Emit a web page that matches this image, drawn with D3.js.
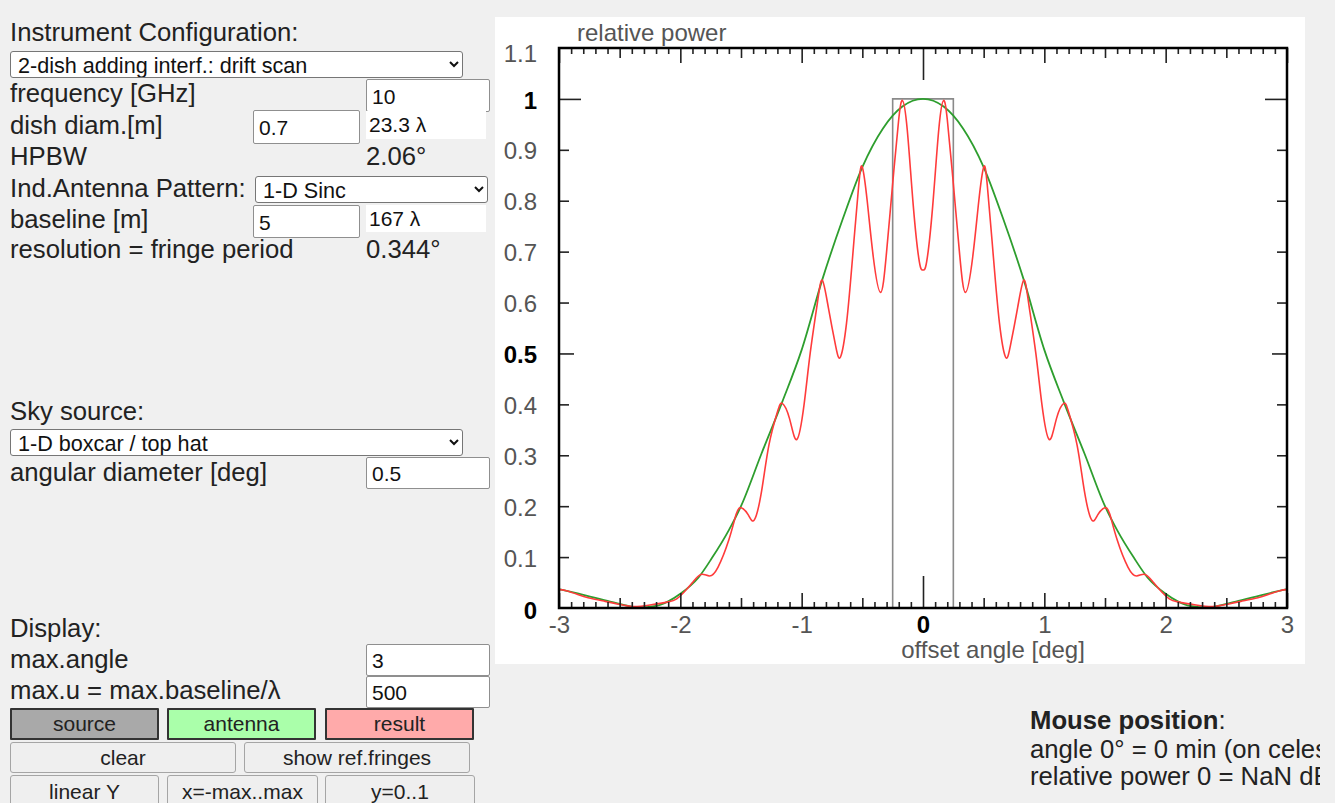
<!DOCTYPE html>
<html>
<head>
<meta charset="utf-8">
<script src="https://cdn.jsdelivr.net/npm/d3@7"></script>
<style>
  html, body { margin: 0; padding: 0; background: #f0f0f0; }
  body { font-family: "Liberation Sans", Arial, sans-serif; color: #222; }
  #page { position: relative; width: 1320px; height: 803px; overflow: hidden; }
  .lbl { position: absolute; font-size: 25.7px; line-height: 24px; white-space: nowrap; }
  select, input, .ro, button { position: absolute; box-sizing: border-box; font-family: inherit; }
  select { font-size: 21.6px; border: 1px solid #767676; border-radius: 3px; background: #fff; color: #111; padding: 0 0 0 3px; }
  input { font-size: 21px; border: 1px solid #8f8f8f; border-radius: 2px; background: #fff; color: #111; padding: 2px 0 0 5px; }
  .ro { font-size: 21px; background: #fff; padding: 2px 0 0 3px; line-height: 24px; color: #111; }
  button { font-size: 21px; color: #222; background: #efefef; border: 1px solid #a5a5a5; border-radius: 3px; padding: 0; }
  button.col { border: 2px solid #333; border-radius: 1px; }
  #chart { position: absolute; left: 495px; top: 17px; background: #fff; }
</style>
</head>
<body>
<div id="page">
  <div class="lbl" style="left:10px;top:20px">Instrument Configuration:</div>
  <select style="left:10px;top:51px;width:453px;height:27px"><option>2-dish adding interf.: drift scan</option></select>
  <div class="lbl" style="left:10px;top:81px">frequency [GHz]</div>
  <input style="left:366px;top:79px;width:124px;height:33px" value="10">
  <div class="lbl" style="left:10px;top:113px">dish diam.[m]</div>
  <input style="left:253px;top:110px;width:107px;height:34px" value="0.7">
  <div class="ro" style="left:366px;top:111px;width:120px;height:28px">23.3 λ</div>
  <div class="lbl" style="left:10px;top:144px">HPBW</div>
  <div class="lbl" style="left:366px;top:144px">2.06°</div>
  <div class="lbl" style="left:10px;top:176px">Ind.Antenna Pattern:</div>
  <select style="left:255px;top:176px;width:233px;height:27px"><option>1-D Sinc</option></select>
  <div class="lbl" style="left:10px;top:207px">baseline [m]</div>
  <input style="left:253px;top:205px;width:107px;height:33px" value="5">
  <div class="ro" style="left:366px;top:205px;width:120px;height:27px">167 λ</div>
  <div class="lbl" style="left:10px;top:237px">resolution = fringe period</div>
  <div class="lbl" style="left:366px;top:237px">0.344°</div>

  <div class="lbl" style="left:10px;top:399px">Sky source:</div>
  <select style="left:10px;top:429px;width:453px;height:27px"><option>1-D boxcar / top hat</option></select>
  <div class="lbl" style="left:10px;top:460px">angular diameter [deg]</div>
  <input style="left:366px;top:457px;width:124px;height:32px" value="0.5">

  <div class="lbl" style="left:10px;top:616px">Display:</div>
  <div class="lbl" style="left:10px;top:647px">max.angle</div>
  <input style="left:366px;top:644px;width:124px;height:32px" value="3">
  <div class="lbl" style="left:10px;top:678px">max.u = max.baseline/λ</div>
  <input style="left:366px;top:676px;width:124px;height:32px" value="500">

  <button class="col" style="left:10px;top:708px;width:149px;height:32px;background:#a9a9a9">source</button>
  <button class="col" style="left:167px;top:708px;width:149px;height:32px;background:#aaffaa">antenna</button>
  <button class="col" style="left:325px;top:708px;width:149px;height:32px;background:#ffaaaa">result</button>
  <button style="left:10px;top:742px;width:226px;height:31px">clear</button>
  <button style="left:244px;top:742px;width:226px;height:31px">show ref.fringes</button>
  <button style="left:10px;top:775px;width:149px;height:34px">linear Y</button>
  <button style="left:167px;top:775px;width:151px;height:34px">x=-max..max</button>
  <button style="left:325px;top:775px;width:150px;height:34px">y=0..1</button>

  <div class="lbl" style="left:1030px;top:708px"><b>Mouse position</b>:</div>
  <div class="lbl" style="left:1030px;top:737px">angle 0° = 0 min (on celestial sphere)</div>
  <div class="lbl" style="left:1030px;top:764px">relative power 0 = NaN dB</div>

  <svg id="chart" width="810" height="647"></svg>
</div>
<script>
// sky source: 1-D boxcar, 0.5 deg wide
const sourceCurve = [[-3, 0], [-0.25, 0], [-0.25, 1], [0.25, 1], [0.25, 0], [3, 0]];

// antenna pattern (green)
const antennaCurve = [
  [-3.0, 0.037], [-2.8, 0.026], [-2.6, 0.014], [-2.45, 0.005], [-2.35, 0.001], [-2.2, 0.004],
  [-2.1, 0.013], [-2.0, 0.028], [-1.85, 0.060], [-1.74, 0.098], [-1.6, 0.153], [-1.5, 0.200],
  [-1.33, 0.304], [-1.16, 0.405], [-1.0, 0.507], [-0.83, 0.645], [-0.66, 0.765], [-0.5, 0.866],
  [-0.33, 0.942], [-0.17, 0.985], [0, 1.0],
  [0.17, 0.985], [0.33, 0.942], [0.5, 0.866], [0.66, 0.765], [0.83, 0.645], [1.0, 0.507],
  [1.16, 0.405], [1.33, 0.304], [1.5, 0.200], [1.6, 0.153], [1.74, 0.098], [1.85, 0.060],
  [2.0, 0.028], [2.1, 0.013], [2.2, 0.004], [2.35, 0.001], [2.45, 0.005], [2.6, 0.014],
  [2.8, 0.026], [3.0, 0.037]
];

// result = source seen through the interferometer (red)
const resultCurve = [
  [-3.00, 0.036], [-2.94, 0.034], [-2.85, 0.027], [-2.76, 0.020], [-2.62, 0.013], [-2.50, 0.007],
  [-2.39, 0.003], [-2.25, 0.006], [-2.10, 0.012], [-2.03, 0.018], [-1.97, 0.031], [-1.90, 0.050],
  [-1.83, 0.066], [-1.76, 0.063], [-1.69, 0.080], [-1.60, 0.134], [-1.54, 0.184], [-1.50, 0.197],
  [-1.44, 0.183], [-1.39, 0.173], [-1.33, 0.230], [-1.27, 0.320], [-1.20, 0.385], [-1.16, 0.402],
  [-1.10, 0.372], [-1.04, 0.331], [-0.98, 0.400], [-0.93, 0.500], [-0.87, 0.600], [-0.83, 0.644],
  [-0.78, 0.590], [-0.72, 0.515], [-0.68, 0.493], [-0.63, 0.560], [-0.58, 0.690], [-0.53, 0.830],
  [-0.50, 0.866], [-0.46, 0.800], [-0.41, 0.690], [-0.35, 0.620], [-0.30, 0.700], [-0.24, 0.860],
  [-0.20, 0.960], [-0.17, 0.997], [-0.13, 0.940], [-0.08, 0.790], [-0.03, 0.680], [0.00, 0.664],
  [0.03, 0.680], [0.08, 0.790], [0.13, 0.940], [0.17, 0.997], [0.20, 0.960], [0.24, 0.860],
  [0.30, 0.700], [0.35, 0.620], [0.41, 0.690], [0.46, 0.800], [0.50, 0.866], [0.53, 0.830],
  [0.58, 0.690], [0.63, 0.560], [0.68, 0.493], [0.72, 0.515], [0.78, 0.590], [0.83, 0.644],
  [0.87, 0.600], [0.93, 0.500], [0.98, 0.400], [1.04, 0.331], [1.10, 0.372], [1.16, 0.402],
  [1.20, 0.385], [1.27, 0.320], [1.33, 0.230], [1.39, 0.173], [1.44, 0.183], [1.50, 0.197],
  [1.54, 0.184], [1.60, 0.134], [1.69, 0.080], [1.76, 0.063], [1.83, 0.066], [1.90, 0.050],
  [1.97, 0.031], [2.03, 0.018], [2.10, 0.012], [2.25, 0.006], [2.39, 0.003], [2.50, 0.007],
  [2.62, 0.013], [2.76, 0.020], [2.85, 0.027], [2.94, 0.034], [3.00, 0.036]
];

const xTickLabels = [-3, -2, -1, 0, 1, 2, 3];
const yTickLabels = [0, 0.1, 0.2, 0.3, 0.4, 0.5, 0.6, 0.7, 0.8, 0.9, 1, 1.1];
const boldTicks = [0, 0.5, 1];

const margin = {top: 31, left: 64};
const width = 728, height = 560;

const svg = d3.select("#chart");
const g = svg.append("g").attr("transform", `translate(${margin.left},${margin.top})`);

const x = d3.scaleLinear().domain([-3, 3]).range([0, width]);
const y = d3.scaleLinear().domain([0, 1.1]).range([height, 0]);

g.append("clipPath").attr("id", "plotclip")
  .append("rect").attr("width", width).attr("height", height);

const plot = g.append("g").attr("clip-path", "url(#plotclip)");

plot.append("path")
  .datum(sourceCurve)
  .attr("d", d3.line().x(d => x(d[0])).y(d => y(d[1])))
  .style("fill", "none")
  .style("stroke", "#8a8a8a")
  .style("stroke-width", 1.6);

plot.append("path")
  .datum(antennaCurve)
  .attr("d", d3.line().x(d => x(d[0])).y(d => y(d[1])).curve(d3.curveMonotoneX))
  .style("fill", "none")
  .style("stroke", "#2e9e2e")
  .style("stroke-width", 1.8);

plot.append("path")
  .datum(resultCurve)
  .attr("d", d3.line().x(d => x(d[0])).y(d => y(d[1])).curve(d3.curveNatural))
  .style("fill", "none")
  .style("stroke", "#ff3b3b")
  .style("stroke-width", 1.6);

// tick marks along the frame, pointing inwards
const xMinor = d3.range(-30, 31).map(i => i / 10);
const yMinor = yTickLabels.slice(1, 11);
const near = (a, b) => Math.abs(a - b) < 1e-6;
const xLen = d => near(d, 0) ? 32 : near(d, Math.round(d)) ? 15 : near(d * 2, Math.round(d * 2)) ? 10 : 6;
const yLen = d => near(d, 1) ? 22 : near(d, 0.5) ? 15 : 10;

function ticks(axis, attr, sign, lenFn) {
  const a = g.append("g").call(axis.tickSize(0).tickFormat(""));
  a.select(".domain").remove();
  a.selectAll(".tick line")
    .attr(attr, d => sign * lenFn(d))
    .style("stroke", "#222")
    .style("stroke-width", 1.6);
  return a;
}
ticks(d3.axisBottom(x).tickValues(xMinor), "y2", -1, xLen).attr("transform", `translate(0,${height})`);
ticks(d3.axisTop(x).tickValues(xMinor), "y2", 1, xLen);
ticks(d3.axisLeft(y).tickValues(yMinor), "x2", 1, yLen);
ticks(d3.axisRight(y).tickValues(yMinor), "x2", -1, yLen).attr("transform", `translate(${width},0)`);

g.append("rect")
  .attr("width", width).attr("height", height)
  .style("fill", "none").style("stroke", "#000").style("stroke-width", 2.5);

// labels
const yAx = g.append("g")
  .call(d3.axisLeft(y).tickValues(yTickLabels).tickSize(0).tickPadding(22).tickFormat(d => String(d)));
yAx.select(".domain").remove();
yAx.selectAll("text")
  .style("font-family", "'Liberation Sans', Arial, sans-serif")
  .style("font-size", "24px")
  .style("fill", d => boldTicks.some(b => near(b, d)) ? "#000" : "#555")
  .style("font-weight", d => boldTicks.some(b => near(b, d)) ? "bold" : "normal")
  .attr("dy", d => near(d, 0) ? "0.45em" : near(d, 1.1) ? "0.55em" : "0.38em");

const xAx = g.append("g")
  .attr("transform", `translate(0,${height})`)
  .call(d3.axisBottom(x).tickValues(xTickLabels).tickSize(0).tickPadding(8).tickFormat(d => String(d)));
xAx.select(".domain").remove();
xAx.selectAll("text")
  .style("font-family", "'Liberation Sans', Arial, sans-serif")
  .style("font-size", "24px")
  .style("fill", d => d === 0 ? "#000" : "#555")
  .style("font-weight", d => d === 0 ? "bold" : "normal");

svg.append("text")
  .attr("x", 82).attr("y", 24)
  .style("font-family", "'Liberation Sans', Arial, sans-serif")
  .style("font-size", "24px").style("fill", "#555")
  .text("relative power");

svg.append("text")
  .attr("x", 498).attr("y", 641)
  .attr("text-anchor", "middle")
  .style("font-family", "'Liberation Sans', Arial, sans-serif")
  .style("font-size", "24px").style("fill", "#555")
  .text("offset angle [deg]");
</script>
</body>
</html>
